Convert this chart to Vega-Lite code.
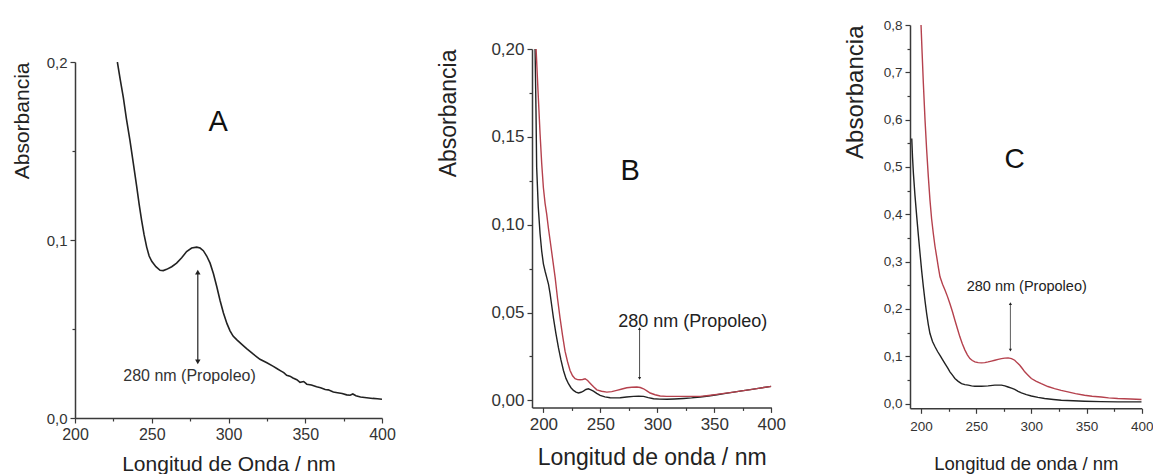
{
"$schema":"https://vega.github.io/schema/vega-lite/v6.json",
"padding":0,
"background":"white",
"config":{"view":{"stroke":null},"axis":{"domainColor":"#3a3a3a","tickColor":"#3a3a3a","labelColor":"#333","titleColor":"#222","grid":false,"labelFont":"Liberation Sans","titleFont":"Liberation Sans","titleFontWeight":"normal","domainWidth":1.5,"tickWidth":1.2,"labelFlush":false,"labelOverlap":false,"labelBound":false}},
"datasets":{
"A":[
{"s":"k","wl":227.6,"abs":0.2},{"s":"k","wl":229.5,"abs":0.19},{"s":"k","wl":231.5,"abs":0.18},{"s":"k","wl":233.5,"abs":0.168},{"s":"k","wl":235.8,"abs":0.156},{"s":"k","wl":238,"abs":0.143},{"s":"k","wl":240.2,"abs":0.13},{"s":"k","wl":241.8,"abs":0.12},{"s":"k","wl":243.4,"abs":0.111},{"s":"k","wl":245,"abs":0.103},{"s":"k","wl":246.7,"abs":0.096},{"s":"k","wl":248.3,"abs":0.091},{"s":"k","wl":250,"abs":0.088},{"s":"k","wl":252.7,"abs":0.085},{"s":"k","wl":255.4,"abs":0.083},{"s":"k","wl":257.5,"abs":0.0828},{"s":"k","wl":259.7,"abs":0.0835},{"s":"k","wl":263,"abs":0.085},{"s":"k","wl":266.2,"abs":0.087},{"s":"k","wl":269.5,"abs":0.09},{"s":"k","wl":272.7,"abs":0.0935},{"s":"k","wl":276,"abs":0.0955},{"s":"k","wl":279.3,"abs":0.096},{"s":"k","wl":281.5,"abs":0.0955},{"s":"k","wl":283.6,"abs":0.094},{"s":"k","wl":285.8,"abs":0.091},{"s":"k","wl":288,"abs":0.087},{"s":"k","wl":290.2,"abs":0.081},{"s":"k","wl":292.3,"abs":0.074},{"s":"k","wl":294.5,"abs":0.066},{"s":"k","wl":296.7,"abs":0.059},{"s":"k","wl":299,"abs":0.053},{"s":"k","wl":301,"abs":0.049},{"s":"k","wl":303,"abs":0.046},{"s":"k","wl":305.3,"abs":0.044},{"s":"k","wl":308.5,"abs":0.0415},{"s":"k","wl":311.8,"abs":0.039},{"s":"k","wl":316,"abs":0.036},{"s":"k","wl":320.5,"abs":0.033},{"s":"k","wl":325,"abs":0.031},{"s":"k","wl":329.2,"abs":0.029},{"s":"k","wl":332,"abs":0.0275},{"s":"k","wl":334,"abs":0.0265},{"s":"k","wl":336,"abs":0.0255},{"s":"k","wl":337.9,"abs":0.024},{"s":"k","wl":340,"abs":0.0235},{"s":"k","wl":342,"abs":0.0225},{"s":"k","wl":344.5,"abs":0.0215},{"s":"k","wl":346.6,"abs":0.02},{"s":"k","wl":349,"abs":0.0205},{"s":"k","wl":351,"abs":0.019},{"s":"k","wl":354,"abs":0.0185},{"s":"k","wl":357.4,"abs":0.0175},{"s":"k","wl":360,"abs":0.017},{"s":"k","wl":363,"abs":0.016},{"s":"k","wl":365,"abs":0.0158},{"s":"k","wl":368.3,"abs":0.0146},{"s":"k","wl":371,"abs":0.0142},{"s":"k","wl":374,"abs":0.0138},{"s":"k","wl":377,"abs":0.013},{"s":"k","wl":379.2,"abs":0.0128},{"s":"k","wl":381,"abs":0.0135},{"s":"k","wl":383,"abs":0.0125},{"s":"k","wl":386,"abs":0.0118},{"s":"k","wl":390,"abs":0.0114},{"s":"k","wl":394,"abs":0.011},{"s":"k","wl":397,"abs":0.0108},{"s":"k","wl":400,"abs":0.0105},
{"s":"arrow","end":"top","wl":280,"abs":0.082},{"s":"arrow","end":"bottom","wl":280,"abs":0.0315},
{"s":"note","wl":274.6,"abs":0.0236,"txt":"280 nm (Propoleo)"},
{"s":"letter","wl":293.2,"abs":0.1663,"txt":"A"}
],
"B":[
{"s":"k","wl":192.7,"abs":0.2},{"s":"k","wl":193.5,"abs":0.165},{"s":"k","wl":194.1,"abs":0.1326},{"s":"k","wl":195.5,"abs":0.11},{"s":"k","wl":197.1,"abs":0.0947},{"s":"k","wl":198.5,"abs":0.085},{"s":"k","wl":200,"abs":0.0777},{"s":"k","wl":201.5,"abs":0.0735},{"s":"k","wl":202.9,"abs":0.07},{"s":"k","wl":204.5,"abs":0.066},{"s":"k","wl":205.9,"abs":0.0606},{"s":"k","wl":207.3,"abs":0.054},{"s":"k","wl":208.8,"abs":0.047},{"s":"k","wl":211,"abs":0.038},{"s":"k","wl":213.2,"abs":0.03},{"s":"k","wl":215.4,"abs":0.023},{"s":"k","wl":217.6,"abs":0.017},{"s":"k","wl":219.8,"abs":0.0125},{"s":"k","wl":222,"abs":0.0095},{"s":"k","wl":224.2,"abs":0.0072},{"s":"k","wl":226.4,"abs":0.0057},{"s":"k","wl":228.6,"abs":0.0047},{"s":"k","wl":230.8,"abs":0.0042},{"s":"k","wl":233,"abs":0.0046},{"s":"k","wl":235.1,"abs":0.0053},{"s":"k","wl":237.3,"abs":0.0062},{"s":"k","wl":239.5,"abs":0.0066},{"s":"k","wl":241.7,"abs":0.006},{"s":"k","wl":243.9,"abs":0.0053},{"s":"k","wl":246.8,"abs":0.004},{"s":"k","wl":249.8,"abs":0.0028},{"s":"k","wl":254,"abs":0.002},{"s":"k","wl":258.6,"abs":0.0015},{"s":"k","wl":263,"abs":0.0014},{"s":"k","wl":267.4,"abs":0.0015},{"s":"k","wl":273,"abs":0.0019},{"s":"k","wl":279.1,"abs":0.0023},{"s":"k","wl":283.5,"abs":0.0024},{"s":"k","wl":287.9,"abs":0.0023},{"s":"k","wl":292,"abs":0.0016},{"s":"k","wl":296.7,"abs":0.0009},{"s":"k","wl":302,"abs":0.0007},{"s":"k","wl":308.4,"abs":0.0006},{"s":"k","wl":315,"abs":0.0008},{"s":"k","wl":323,"abs":0.0011},{"s":"k","wl":330,"abs":0.0014},{"s":"k","wl":337.7,"abs":0.0019},{"s":"k","wl":345,"abs":0.0025},{"s":"k","wl":352.3,"abs":0.0032},{"s":"k","wl":360,"abs":0.004},{"s":"k","wl":367,"abs":0.0047},{"s":"k","wl":374,"abs":0.0054},{"s":"k","wl":381.6,"abs":0.0061},{"s":"k","wl":390,"abs":0.007},{"s":"k","wl":400,"abs":0.008},
{"s":"r","wl":193.6,"abs":0.2},{"s":"r","wl":195.3,"abs":0.176},{"s":"r","wl":197.1,"abs":0.1515},{"s":"r","wl":198.5,"abs":0.135},{"s":"r","wl":200,"abs":0.121},{"s":"r","wl":201.5,"abs":0.112},{"s":"r","wl":202.9,"abs":0.106},{"s":"r","wl":204.4,"abs":0.098},{"s":"r","wl":205.9,"abs":0.091},{"s":"r","wl":208,"abs":0.081},{"s":"r","wl":210.3,"abs":0.07},{"s":"r","wl":212.4,"abs":0.058},{"s":"r","wl":214.6,"abs":0.047},{"s":"r","wl":216.8,"abs":0.037},{"s":"r","wl":219,"abs":0.028},{"s":"r","wl":221.2,"abs":0.022},{"s":"r","wl":223.4,"abs":0.017},{"s":"r","wl":225.6,"abs":0.014},{"s":"r","wl":227.8,"abs":0.0123},{"s":"r","wl":230,"abs":0.0118},{"s":"r","wl":232.2,"abs":0.0117},{"s":"r","wl":234.4,"abs":0.0119},{"s":"r","wl":236.6,"abs":0.0123},{"s":"r","wl":238.8,"abs":0.0113},{"s":"r","wl":241,"abs":0.0098},{"s":"r","wl":244,"abs":0.0078},{"s":"r","wl":246.9,"abs":0.006},{"s":"r","wl":251,"abs":0.0052},{"s":"r","wl":255.7,"abs":0.0047},{"s":"r","wl":260,"abs":0.005},{"s":"r","wl":264.4,"abs":0.0057},{"s":"r","wl":269,"abs":0.0065},{"s":"r","wl":273.2,"abs":0.0072},{"s":"r","wl":277.5,"abs":0.0075},{"s":"r","wl":282,"abs":0.0076},{"s":"r","wl":285,"abs":0.0073},{"s":"r","wl":287.9,"abs":0.0066},{"s":"r","wl":290.8,"abs":0.0054},{"s":"r","wl":293.7,"abs":0.0042},{"s":"r","wl":298,"abs":0.0032},{"s":"r","wl":302.5,"abs":0.0025},{"s":"r","wl":308,"abs":0.0023},{"s":"r","wl":314.2,"abs":0.0023},{"s":"r","wl":320,"abs":0.0023},{"s":"r","wl":326,"abs":0.0023},{"s":"r","wl":332,"abs":0.0023},{"s":"r","wl":337.7,"abs":0.0023},{"s":"r","wl":345,"abs":0.0028},{"s":"r","wl":352.3,"abs":0.0034},{"s":"r","wl":360,"abs":0.0041},{"s":"r","wl":367,"abs":0.0047},{"s":"r","wl":374,"abs":0.0054},{"s":"r","wl":381.6,"abs":0.0061},{"s":"r","wl":390,"abs":0.007},{"s":"r","wl":400,"abs":0.008},
{"s":"arrow","end":"top","wl":284.4,"abs":0.0409},{"s":"arrow","end":"bottom","wl":284.4,"abs":0.0125},
{"s":"note","wl":331.1,"abs":0.0445,"txt":"280 nm (Propoleo)"},
{"s":"letter","wl":276.2,"abs":0.1307,"txt":"B"}
],
"C":[
{"s":"k","wl":191.6,"abs":0.56},{"s":"k","wl":192.3,"abs":0.52},{"s":"k","wl":193.1,"abs":0.486},{"s":"k","wl":194.5,"abs":0.44},{"s":"k","wl":196.1,"abs":0.395},{"s":"k","wl":197.6,"abs":0.355},{"s":"k","wl":199.1,"abs":0.317},{"s":"k","wl":200.6,"abs":0.28},{"s":"k","wl":202.1,"abs":0.247},{"s":"k","wl":203.6,"abs":0.217},{"s":"k","wl":205.1,"abs":0.19},{"s":"k","wl":206.6,"abs":0.167},{"s":"k","wl":208.1,"abs":0.148},{"s":"k","wl":210.4,"abs":0.131},{"s":"k","wl":212.7,"abs":0.12},{"s":"k","wl":215,"abs":0.11},{"s":"k","wl":217.2,"abs":0.102},{"s":"k","wl":219.5,"abs":0.093},{"s":"k","wl":221.7,"abs":0.0846},{"s":"k","wl":224,"abs":0.076},{"s":"k","wl":226.2,"abs":0.067},{"s":"k","wl":228.5,"abs":0.06},{"s":"k","wl":230.7,"abs":0.053},{"s":"k","wl":233.7,"abs":0.047},{"s":"k","wl":236.7,"abs":0.042},{"s":"k","wl":239.7,"abs":0.04},{"s":"k","wl":242.8,"abs":0.039},{"s":"k","wl":245.8,"abs":0.0375},{"s":"k","wl":248.8,"abs":0.0366},{"s":"k","wl":254.8,"abs":0.0366},{"s":"k","wl":260.8,"abs":0.0373},{"s":"k","wl":266.9,"abs":0.039},{"s":"k","wl":272.9,"abs":0.039},{"s":"k","wl":276,"abs":0.0375},{"s":"k","wl":278.9,"abs":0.035},{"s":"k","wl":282,"abs":0.0325},{"s":"k","wl":284.9,"abs":0.03},{"s":"k","wl":288,"abs":0.026},{"s":"k","wl":291,"abs":0.0226},{"s":"k","wl":295.5,"abs":0.019},{"s":"k","wl":300,"abs":0.016},{"s":"k","wl":306,"abs":0.013},{"s":"k","wl":312,"abs":0.0106},{"s":"k","wl":320,"abs":0.0085},{"s":"k","wl":327.1,"abs":0.007},{"s":"k","wl":338,"abs":0.006},{"s":"k","wl":348.2,"abs":0.005},{"s":"k","wl":363,"abs":0.0042},{"s":"k","wl":378.3,"abs":0.0035},{"s":"k","wl":390,"abs":0.0035},{"s":"k","wl":400,"abs":0.0035},
{"s":"r","wl":200,"abs":0.8},{"s":"r","wl":201,"abs":0.74},{"s":"r","wl":202.1,"abs":0.677},{"s":"r","wl":203.6,"abs":0.6},{"s":"r","wl":205.1,"abs":0.536},{"s":"r","wl":206.6,"abs":0.48},{"s":"r","wl":208.1,"abs":0.43},{"s":"r","wl":209.6,"abs":0.39},{"s":"r","wl":211.1,"abs":0.36},{"s":"r","wl":212.6,"abs":0.333},{"s":"r","wl":214.2,"abs":0.31},{"s":"r","wl":215.7,"abs":0.288},{"s":"r","wl":217.2,"abs":0.268},{"s":"r","wl":219.5,"abs":0.252},{"s":"r","wl":221.7,"abs":0.24},{"s":"r","wl":224,"abs":0.226},{"s":"r","wl":226.2,"abs":0.211},{"s":"r","wl":228.5,"abs":0.194},{"s":"r","wl":230.7,"abs":0.176},{"s":"r","wl":233,"abs":0.158},{"s":"r","wl":235.2,"abs":0.141},{"s":"r","wl":237.5,"abs":0.126},{"s":"r","wl":239.8,"abs":0.113},{"s":"r","wl":242,"abs":0.103},{"s":"r","wl":244.3,"abs":0.095},{"s":"r","wl":246.5,"abs":0.091},{"s":"r","wl":248.8,"abs":0.088},{"s":"r","wl":251.8,"abs":0.0865},{"s":"r","wl":254.8,"abs":0.086},{"s":"r","wl":257.8,"abs":0.0865},{"s":"r","wl":260.8,"abs":0.088},{"s":"r","wl":263.8,"abs":0.0898},{"s":"r","wl":266.9,"abs":0.0916},{"s":"r","wl":269.9,"abs":0.0935},{"s":"r","wl":272.9,"abs":0.095},{"s":"r","wl":275.9,"abs":0.096},{"s":"r","wl":278.9,"abs":0.0965},{"s":"r","wl":282,"abs":0.095},{"s":"r","wl":284.9,"abs":0.0916},{"s":"r","wl":287.2,"abs":0.086},{"s":"r","wl":289.5,"abs":0.081},{"s":"r","wl":291.8,"abs":0.074},{"s":"r","wl":294,"abs":0.067},{"s":"r","wl":297,"abs":0.06},{"s":"r","wl":300,"abs":0.053},{"s":"r","wl":304.5,"abs":0.047},{"s":"r","wl":309,"abs":0.042},{"s":"r","wl":315,"abs":0.036},{"s":"r","wl":321,"abs":0.0317},{"s":"r","wl":327,"abs":0.028},{"s":"r","wl":333.1,"abs":0.0247},{"s":"r","wl":340,"abs":0.021},{"s":"r","wl":348.2,"abs":0.0176},{"s":"r","wl":355,"abs":0.0155},{"s":"r","wl":363.3,"abs":0.014},{"s":"r","wl":370,"abs":0.012},{"s":"r","wl":378.3,"abs":0.0106},{"s":"r","wl":390,"abs":0.0095},{"s":"r","wl":400,"abs":0.0085},
{"s":"arrow","end":"top","wl":281,"abs":0.211},{"s":"arrow","end":"bottom","wl":281,"abs":0.113},
{"s":"note","wl":295.8,"abs":0.2465,"txt":"280 nm (Propoleo)"},
{"s":"letter","wl":284.9,"abs":0.514,"txt":"C"}
]
},
"bounds":"flush",
"spacing":0,
"hconcat":[
{"width":75,"height":10,"data":{"values":[]},"mark":"point","encoding":{}},
{"vconcat":[
 {"width":307,"height":62,"data":{"values":[]},"mark":"point","encoding":{}},
 {"width":307,"height":356,"data":{"name":"A"},
  "encoding":{
   "x":{"field":"wl","type":"quantitative","scale":{"domain":[200,400],"nice":false,"zero":false},
        "axis":{"title":"Longitud de Onda / nm","values":[200,225,250,275,300,325,350,375,400],"labelExpr":"datum.value % 50 == 0 ? datum.value : ''","tickSize":{"condition":{"test":"datum.value % 50 != 0","value":3},"value":5},"labelFontSize":16,"titleFontSize":21,"labelPadding":3,"titlePadding":11}},
   "y":{"field":"abs","type":"quantitative","scale":{"domain":[0,0.2],"nice":false,"zero":false},
        "axis":{"title":"Absorbancia","titleAnchor":"end","values":[0,0.05,0.1,0.15,0.2],"labelExpr":"round(datum.value*100) % 10 == 0 ? replace(format(datum.value,'.1f'),'.',',') : ''","tickSize":{"condition":{"test":"round(datum.value*100) % 10 != 0","value":3},"value":5},"labelFontSize":15,"titleFontSize":21,"labelPadding":3,"titlePadding":14}}
  },
  "layer":[
   {"transform":[{"filter":"datum.s=='k'"}],"mark":{"type":"line","color":"#222","strokeWidth":1.6,"clip":true}},
   {"transform":[{"filter":"datum.s=='arrow'"}],"mark":{"type":"line","color":"#222","strokeWidth":1.2}},
   {"transform":[{"filter":"datum.end=='top'"}],"mark":{"type":"point","shape":"triangle-up","filled":true,"color":"#222","size":30,"opacity":1}},
   {"transform":[{"filter":"datum.end=='bottom'"}],"mark":{"type":"point","shape":"triangle-down","filled":true,"color":"#222","size":30,"opacity":1}},
   {"transform":[{"filter":"datum.s=='note'"}],"mark":{"type":"text","font":"Liberation Sans","fontSize":16,"color":"#333","align":"center","baseline":"middle"},"encoding":{"text":{"field":"txt"}}},
   {"transform":[{"filter":"datum.s=='letter'"}],"mark":{"type":"text","font":"Liberation Sans","fontSize":29,"color":"#111","align":"center","baseline":"middle"},"encoding":{"text":{"field":"txt"}}}
  ]
 }
],"spacing":0,"bounds":"flush"},
{"width":456.7,"height":10,"data":{"values":[]},"mark":"point","encoding":{}},
{"vconcat":[
 {"width":239.3,"height":48.3,"data":{"values":[]},"mark":"point","encoding":{}},
 {"width":239.3,"height":358.4,"data":{"name":"B"},
  "encoding":{
   "x":{"field":"wl","type":"quantitative","scale":{"domain":[190,400],"nice":false,"zero":false},
        "axis":{"title":"Longitud de onda / nm","values":[200,225,250,275,300,325,350,375,400],"labelExpr":"datum.value % 50 == 0 ? datum.value : ''","tickSize":{"condition":{"test":"datum.value % 50 != 0","value":3},"value":5},"labelFontSize":17,"titleFontSize":23,"labelPadding":4,"titlePadding":14}},
   "y":{"field":"abs","type":"quantitative","scale":{"domain":[-0.004,0.2],"nice":false,"zero":false},
        "axis":{"title":"Absorbancia","titleAnchor":"end","values":[0,0.025,0.05,0.075,0.1,0.125,0.15,0.175,0.2],"labelExpr":"round(datum.value*1000) % 50 == 0 ? replace(format(datum.value,'.2f'),'.',',') : ''","tickSize":{"condition":{"test":"round(datum.value*1000) % 50 != 0","value":3},"value":5},"labelFontSize":17,"titleFontSize":23,"labelPadding":3,"titlePadding":30}}
  },
  "layer":[
   {"transform":[{"filter":"datum.s=='k'"}],"mark":{"type":"line","color":"#222","strokeWidth":1.4,"clip":true}},
   {"transform":[{"filter":"datum.s=='r'"}],"mark":{"type":"line","color":"#b5414d","strokeWidth":1.4,"clip":true}},
   {"transform":[{"filter":"datum.s=='arrow'"}],"mark":{"type":"line","color":"#222","strokeWidth":0.8}},
   {"transform":[{"filter":"datum.end=='top'"}],"mark":{"type":"point","shape":"triangle-up","filled":true,"color":"#222","size":10,"opacity":1}},
   {"transform":[{"filter":"datum.end=='bottom'"}],"mark":{"type":"point","shape":"triangle-down","filled":true,"color":"#222","size":10,"opacity":1}},
   {"transform":[{"filter":"datum.s=='note'"}],"mark":{"type":"text","font":"Liberation Sans","fontSize":18,"color":"#222","align":"center","baseline":"middle"},"encoding":{"text":{"field":"txt"}}},
   {"transform":[{"filter":"datum.s=='letter'"}],"mark":{"type":"text","font":"Liberation Sans","fontSize":29,"color":"#111","align":"center","baseline":"middle"},"encoding":{"text":{"field":"txt"}}}
  ]
 }
],"spacing":0,"bounds":"flush"},
{"width":377.3,"height":10,"data":{"values":[]},"mark":"point","encoding":{}},
{"vconcat":[
 {"width":231.7,"height":25,"data":{"values":[]},"mark":"point","encoding":{}},
 {"width":231.7,"height":383.3,"data":{"name":"C"},
  "encoding":{
   "x":{"field":"wl","type":"quantitative","scale":{"domain":[190,400],"nice":false,"zero":false},
        "axis":{"title":"Longitud de onda / nm","values":[200,225,250,275,300,325,350,375,400],"labelExpr":"datum.value % 50 == 0 ? datum.value : ''","tickSize":{"condition":{"test":"datum.value % 50 != 0","value":3},"value":5},"labelFontSize":13.5,"titleFontSize":18.5,"labelPadding":6,"titlePadding":22}},
   "y":{"field":"abs","type":"quantitative","scale":{"domain":[-0.01,0.8],"nice":false,"zero":false},
        "axis":{"title":"Absorbancia","titleAnchor":"end","values":[0,0.05,0.1,0.15,0.2,0.25,0.3,0.35,0.4,0.45,0.5,0.55,0.6,0.65,0.7,0.75,0.8],"labelExpr":"round(datum.value*100) % 10 == 0 ? replace(format(datum.value,'.1f'),'.',',') : ''","tickSize":{"condition":{"test":"round(datum.value*100) % 10 != 0","value":3},"value":5},"labelFontSize":13.5,"titleFontSize":24,"labelPadding":3,"titlePadding":16}}
  },
  "layer":[
   {"transform":[{"filter":"datum.s=='k'"}],"mark":{"type":"line","color":"#222","strokeWidth":1.4,"clip":true}},
   {"transform":[{"filter":"datum.s=='r'"}],"mark":{"type":"line","color":"#b5414d","strokeWidth":1.4,"clip":true}},
   {"transform":[{"filter":"datum.s=='arrow'"}],"mark":{"type":"line","color":"#333","strokeWidth":0.8}},
   {"transform":[{"filter":"datum.end=='top'"}],"mark":{"type":"point","shape":"triangle-up","filled":true,"color":"#222","size":10,"opacity":1}},
   {"transform":[{"filter":"datum.end=='bottom'"}],"mark":{"type":"point","shape":"triangle-down","filled":true,"color":"#222","size":10,"opacity":1}},
   {"transform":[{"filter":"datum.s=='note'"}],"mark":{"type":"text","font":"Liberation Sans","fontSize":14.5,"color":"#222","align":"center","baseline":"middle"},"encoding":{"text":{"field":"txt"}}},
   {"transform":[{"filter":"datum.s=='letter'"}],"mark":{"type":"text","font":"Liberation Sans","fontSize":28,"color":"#111","align":"center","baseline":"middle"},"encoding":{"text":{"field":"txt"}}}
  ]
 }
],"spacing":0,"bounds":"flush"}
]
}
